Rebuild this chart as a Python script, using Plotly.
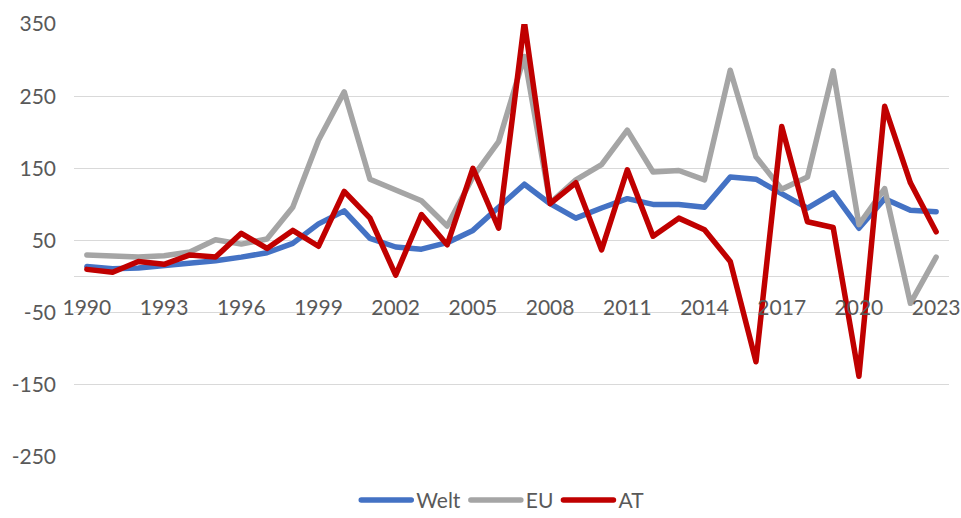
import plotly.graph_objects as go

years = list(range(1990, 2024))
welt = [14, 11, 12, 15, 18, 22, 27, 33, 46, 73, 91, 53, 41, 38, 47, 64, 96, 128,
        101, 81, 95, 108, 100, 100, 96, 138, 135, 115, 95, 116, 67, 108, 92, 90]
eu = [30, 29, 27, 29, 34, 51, 45, 52, 96, 189, 256, 135, 120, 105, 70, 138, 187, 305,
      102, 134, 155, 203, 145, 147, 134, 286, 166, 121, 138, 285, 72, 122, -37, 27]
at = [10, 6, 21, 17, 30, 27, 60, 39, 64, 42, 118, 81, 2, 86, 44, 150, 67, 353,
      101, 130, 37, 148, 56, 81, 65, 21, -118, 208, 76, 68, -138, 236, 130, 62]

series = [("Welt", welt, "#4472C4"), ("EU", eu, "#A5A5A5"), ("AT", at, "#C00000")]
y_ticks = [-250, -150, -50, 50, 150, 250, 350]
y_labels = [str(v) for v in y_ticks]
x_ticks = list(range(1990, 2024, 3))

fig = go.Figure()
for name, vals, col in series:
    fig.add_trace(go.Scatter(x=years, y=vals, name=name, mode="lines",
                             line=dict(color=col, width=5.5)))

font = dict(family="Lato", size=21, color="#595959")
fig.update_layout(
    width=961, height=518,
    margin=dict(l=74, r=12, t=24, b=61, autoexpand=False),
    paper_bgcolor="white", plot_bgcolor="white",
    font=font,
    showlegend=True,
    legend=dict(orientation="h", x=0.49, xanchor="center", y=-0.1, yanchor="middle",
                font=font, itemwidth=50, tracegroupgap=0),
    xaxis=dict(range=[1989.5, 2023.5], tickvals=x_ticks, showgrid=False,
               zeroline=False, showline=False, ticks="", anchor="free",
               position=250 / 600, ticklabelstandoff=16, tickfont=font),
    yaxis=dict(range=[-250, 350], tickvals=y_ticks, ticktext=y_labels, showgrid=True,
               gridcolor="#D9D9D9", gridwidth=1.3, zeroline=True,
               zerolinecolor="#D9D9D9", zerolinewidth=1.3, showline=False,
               ticks="", ticklabelstandoff=17, tickfont=font),
)

fig.write_html("out.html", config={"displayModeBar": False},
               post_script=("document.body.style.margin='0';"
                            "document.querySelectorAll('.js-line').forEach(function(p){"
                            "p.style.strokeLinejoin='round';p.style.strokeLinecap='round';});"))
